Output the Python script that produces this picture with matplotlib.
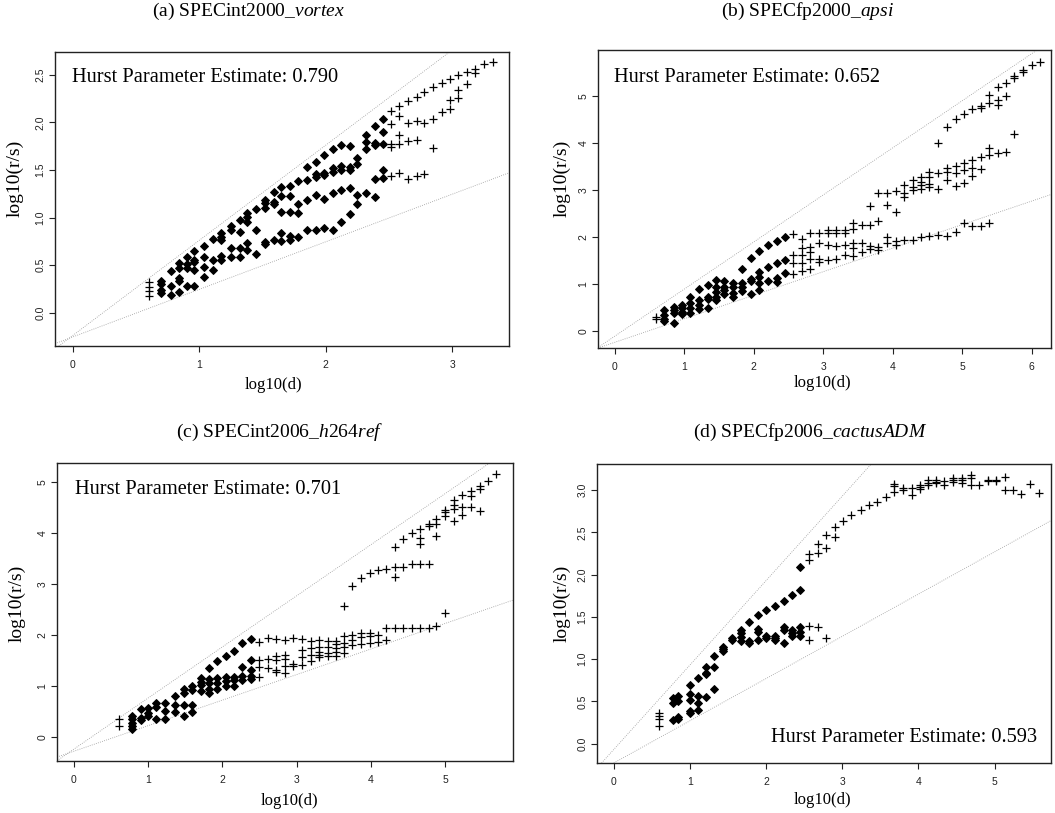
import numpy as np
import matplotlib.pyplot as plt

plt.rcParams['mathtext.fontset'] = 'custom'
plt.rcParams['mathtext.rm'] = 'Liberation Serif'
plt.rcParams['mathtext.it'] = 'Liberation Serif:italic'

# ---- (a) SPECint2000 vortex ----
a_logd = [0.60, 0.70, 0.78, 0.84, 0.90, 0.96, 1.04, 1.11, 1.17, 1.25, 1.32,
          1.38, 1.45, 1.52, 1.59, 1.65, 1.72, 1.78, 1.85, 1.92, 1.99, 2.06,
          2.12, 2.19, 2.25, 2.32, 2.39, 2.45, 2.52, 2.58, 2.65, 2.72, 2.78,
          2.85, 2.92, 2.98, 3.05, 3.12, 3.18, 3.25, 3.32]
a_logrs = [[0.32, 0.275, 0.225, 0.18], [0.33, 0.30, 0.24, 0.21],
           [0.44, 0.285, 0.19], [0.52, 0.47, 0.36, 0.33, 0.215],
           [0.585, 0.515, 0.47, 0.285], [0.65, 0.555, 0.535, 0.45, 0.285],
           [0.70, 0.585, 0.485, 0.38], [0.77, 0.55, 0.445],
           [0.84, 0.795, 0.76, 0.595, 0.555], [0.91, 0.865, 0.675, 0.59],
           [0.97, 0.85, 0.675, 0.59], [1.05, 1.005, 0.95, 0.73, 0.655],
           [1.085, 0.865, 0.615], [1.185, 1.15, 1.10, 0.745, 0.725],
           [1.27, 1.165, 1.14, 0.76], [1.325, 1.225, 1.06, 0.84, 0.755],
           [1.335, 1.225, 1.06, 0.805, 0.76], [1.385, 1.14, 1.05, 0.795],
           [1.53, 1.395, 1.185, 0.865], [1.585, 1.46, 1.43, 1.235, 0.865],
           [1.66, 1.465, 1.445, 1.20, 0.885], [1.72, 1.52, 1.48, 1.255, 0.865],
           [1.765, 1.54, 1.50, 1.29, 0.95], [1.755, 1.535, 1.50, 1.31, 1.04],
           [1.625, 1.565, 1.235, 1.14], [1.87, 1.79, 1.72, 1.26],
           [1.96, 1.78, 1.765, 1.41, 1.22], [2.04, 1.90, 1.77, 1.495, 1.42],
           [2.115, 1.98, 1.775, 1.74, 1.44], [2.17, 2.07, 1.865, 1.77, 1.465],
           [2.22, 1.995, 1.805, 1.41], [2.27, 2.02, 1.815, 1.44],
           [2.315, 1.995, 1.46], [2.37, 2.035, 1.73], [2.415, 2.105],
           [2.46, 2.24, 2.145], [2.495, 2.345, 2.255], [2.53, 2.405],
           [2.565, 2.52], [2.61], [2.64]]

# ---- (b) SPECfp2000 apsi ----
b_logd = [0.60, 0.71, 0.85, 0.965, 1.08, 1.21, 1.35, 1.46, 1.58, 1.70, 1.83,
          1.96, 2.08, 2.20, 2.33, 2.45, 2.57, 2.69, 2.81, 2.94, 3.07, 3.19,
          3.31, 3.43, 3.56, 3.67, 3.79, 3.92, 4.05, 4.17, 4.29, 4.41, 4.53,
          4.66, 4.78, 4.91, 5.03, 5.15, 5.27, 5.39, 5.51, 5.63, 5.75, 5.87,
          6.00, 6.12]
b_logrs = [[0.29, 0.25], [0.445, 0.34, 0.25, 0.22], [0.52, 0.445, 0.39, 0.165],
           [0.55, 0.48, 0.41, 0.36], [0.73, 0.59, 0.48, 0.375],
           [0.885, 0.66, 0.55, 0.46], [0.975, 0.715, 0.675, 0.495],
           [1.085, 0.94, 0.835, 0.715, 0.66], [1.07, 0.93, 0.87, 0.78],
           [1.025, 0.94, 0.80, 0.73], [1.315, 1.015, 0.94, 0.855],
           [1.56, 1.10, 1.07, 0.785], [1.705, 1.245, 1.155, 1.015, 0.87],
           [1.825, 1.365, 1.07], [1.92, 1.44, 1.12, 1.05],
           [1.99, 1.51, 1.225], [2.06, 1.615, 1.44, 1.21],
           [1.95, 1.755, 1.615, 1.44, 1.28], [2.075, 1.775, 1.685, 1.525, 1.31],
           [2.075, 1.865, 1.525, 1.475], [2.145, 2.075, 1.825, 1.51],
           [2.145, 2.075, 1.805, 1.525], [2.145, 2.09, 1.825, 1.615],
           [2.29, 2.16, 1.865, 1.755, 1.595], [2.25, 1.875, 1.685],
           [2.655, 2.25, 1.805, 1.735], [2.925, 2.345, 1.79, 1.72],
           [2.925, 2.675, 1.99, 1.865], [2.98, 2.535, 1.92, 1.825],
           [3.10, 2.925, 2.855, 1.935], [3.21, 3.065, 2.995, 1.935],
           [3.28, 3.175, 3.10, 3.01, 1.99], [3.385, 3.28, 3.125, 3.065, 2.02],
           [4.00, 3.365, 3.01, 2.04], [4.34, 3.455, 3.385, 3.21, 2.02],
           [4.50, 3.505, 3.365, 3.08, 2.11], [4.61, 3.575, 3.42, 3.135, 2.29],
           [4.71, 3.635, 3.455, 3.295, 2.23], [4.78, 4.73, 3.705, 3.435, 2.23],
           [5.015, 4.85, 3.895, 3.74, 2.30], [5.175, 4.91, 4.80, 3.79],
           [5.275, 4.995, 3.81], [5.42, 5.37, 4.185], [5.545, 5.51],
           [5.65], [5.72]]

# ---- (c) SPECint2006 h264ref ----
c_logd = [0.61, 0.78, 0.90, 1.00, 1.11, 1.23, 1.36, 1.48, 1.59, 1.71, 1.82,
          1.93, 2.05, 2.16, 2.27, 2.39, 2.50, 2.62, 2.73, 2.84, 2.95, 3.08,
          3.19, 3.30, 3.42, 3.53, 3.64, 3.75, 3.87, 3.99, 4.10, 4.21, 4.32,
          4.43, 4.55, 4.66, 4.78, 4.88, 5.00, 5.12, 5.23, 5.35, 5.47, 5.58,
          5.69]
c_logrs = [[0.355, 0.22], [0.42, 0.355, 0.29, 0.22, 0.175], [0.55, 0.375, 0.34],
           [0.57, 0.485, 0.42], [0.68, 0.59, 0.355], [0.665, 0.515, 0.355],
           [0.81, 0.635, 0.505], [0.94, 0.875, 0.635, 0.42],
           [1.005, 0.93, 0.635, 0.505], [1.155, 1.09, 1.025, 0.915],
           [1.355, 1.135, 1.06, 0.94, 0.865], [1.505, 1.155, 1.06, 0.94],
           [1.595, 1.19, 1.11, 1.005], [1.695, 1.19, 1.125, 1.005],
           [1.845, 1.375, 1.205, 1.125], [1.92, 1.515, 1.32, 1.205, 1.135],
           [1.875, 1.515, 1.375, 1.175], [1.94, 1.53, 1.355],
           [1.92, 1.595, 1.515, 1.32, 1.29], [1.91, 1.615, 1.53, 1.40, 1.255],
           [1.94, 1.44, 1.40], [1.92, 1.71, 1.57, 1.42],
           [1.895, 1.745, 1.615, 1.505], [1.91, 1.78, 1.68, 1.615, 1.57],
           [1.895, 1.78, 1.66, 1.595], [1.895, 1.83, 1.745, 1.68, 1.595],
           [2.575, 1.985, 1.855, 1.765, 1.66], [2.965, 2.005, 1.91, 1.81],
           [3.12, 2.04, 1.96, 1.83], [3.215, 2.05, 1.985, 1.855],
           [3.27, 2.005, 1.875], [3.295, 2.135, 1.91],
           [3.725, 3.345, 3.135, 2.135], [3.88, 3.345, 2.135],
           [4.00, 3.40, 2.135], [4.08, 3.90, 3.79, 3.40, 2.135],
           [4.185, 4.145, 3.40, 2.135], [4.275, 4.185, 3.935, 2.185],
           [4.46, 4.405, 4.34, 2.445], [4.64, 4.555, 4.47, 4.23],
           [4.75, 4.51, 4.36], [4.815, 4.73, 4.51], [4.915, 4.865, 4.425],
           [5.015], [5.155]]

# ---- (d) SPECfp2006 cactusADM ----
d_logd = [0.60, 0.775, 0.845, 1.00, 1.11, 1.21, 1.32, 1.44, 1.55, 1.67, 1.78,
          1.89, 2.00, 2.12, 2.23, 2.34, 2.45, 2.56, 2.68, 2.79, 2.90, 3.01,
          3.12, 3.24, 3.35, 3.45, 3.57, 3.68, 3.80, 3.91, 4.02, 4.12, 4.23,
          4.34, 4.46, 4.57, 4.69, 4.79, 4.91, 5.02, 5.13, 5.24, 5.35, 5.46,
          5.58]
d_logrs = [[0.365, 0.325, 0.295, 0.205], [0.535, 0.475, 0.275],
           [0.56, 0.50, 0.315, 0.295], [0.69, 0.59, 0.515, 0.385, 0.365],
           [0.78, 0.56, 0.48, 0.395], [0.91, 0.835, 0.82, 0.555],
           [1.035, 0.91, 0.65], [1.145, 1.125, 1.095], [1.245, 1.225],
           [1.35, 1.305, 1.265, 1.215], [1.44, 1.215, 1.19],
           [1.52, 1.36, 1.325, 1.23], [1.58, 1.27, 1.245],
           [1.625, 1.27, 1.245, 1.225], [1.69, 1.38, 1.35, 1.19],
           [1.755, 1.35, 1.31, 1.27], [2.09, 1.815, 1.375, 1.325, 1.27],
           [2.25, 2.17, 1.39, 1.225], [2.36, 2.26, 1.38], [2.465, 2.32, 1.255],
           [2.565, 2.44], [2.635], [2.705], [2.765], [2.825], [2.86], [2.915],
           [3.07, 3.05, 2.98], [3.03, 3.00], [3.02, 2.94], [3.065, 3.04, 3.01],
           [3.12, 3.085, 3.06], [3.12, 3.10, 3.08], [3.11, 3.06],
           [3.15, 3.125, 3.10], [3.14, 3.12, 3.085], [3.18, 3.15, 3.06],
           [3.06], [3.125, 3.105], [3.125, 3.105], [3.16, 3.00], [3.00],
           [2.96], [3.07], [2.97]]

panels = [
    dict(title=r'(a) SPECint2000_$\mathit{vortex}$', logd=a_logd, logrs=a_logrs,
         hurst='0.790', xlim=(-0.14, 3.45), ylim=(-0.35, 2.74),
         xticks=[0, 1, 2, 3], yticks=[0, 0.5, 1.0, 1.5, 2.0, 2.5], yfmt='{:.1f}',
         dense=(0.65, 2.48), icpt=(-0.24, -0.255),
         rect=(55, 52, 509, 346), tpos=(249, 11), hpos=(72, 77, 'left'),
         xlab=(273, 385), ylab=(15, 178)),
    dict(title=r'(b) SPECfp2000_$\mathit{apsi}$', logd=b_logd, logrs=b_logrs,
         hurst='0.652', xlim=(-0.24, 6.28), ylim=(-0.36, 5.97),
         xticks=list(range(7)), yticks=list(range(6)), yfmt='{:d}',
         dense=(0.65, 2.5), icpt=(-0.11, -0.24),
         rect=(598, 50, 1051, 348), tpos=(808, 11), hpos=(614, 77, 'left'),
         xlab=(822, 383), ylab=(562, 178)),
    dict(title=r'(c) SPECint2006_$\mathit{h264ref}$', logd=c_logd, logrs=c_logrs,
         hurst='0.701', xlim=(-0.225, 5.915), ylim=(-0.46, 5.37),
         xticks=list(range(6)), yticks=list(range(6)), yfmt='{:d}',
         dense=(0.7, 2.45), icpt=(-0.23, -0.27),
         rect=(57, 463, 513, 761), tpos=(280, 432), hpos=(75, 489, 'left'),
         xlab=(289, 801), ylab=(17, 603)),
    dict(title=r'(d) SPECfp2006_$\mathit{cactusADM}$', logd=d_logd, logrs=d_logrs,
         hurst='0.593', xlim=(-0.22, 5.74), ylim=(-0.23, 3.31),
         xticks=list(range(6)), yticks=[0, 0.5, 1.0, 1.5, 2.0, 2.5, 3.0], yfmt='{:.1f}',
         dense=(0.7, 2.5), icpt=(-0.07, -0.23),
         rect=(597, 464, 1051, 763), tpos=(810, 432), hpos=(1037, 737, 'right'),
         xlab=(822, 800), ylab=(562, 603)),
]

W, H = 1055, 813
fig = plt.figure(figsize=(W / 100, H / 100), dpi=100)
serif = 'Liberation Serif'
sans = 'Liberation Sans'

for p in panels:
    l, t, r, b = p['rect']
    ax = fig.add_axes([l / W, 1 - b / H, (r - l) / W, (b - t) / H])
    ax.set_xlim(p['xlim'])
    ax.set_ylim(p['ylim'])

    # reference lines with slope 1 and 1/2
    ax.axline((0, p['icpt'][0]), slope=1.0, color='#9a9a9a', lw=0.6,
              ls=(0, (1, 1.6)))
    ax.axline((0, p['icpt'][1]), slope=0.5, color='#9a9a9a', lw=0.6,
              ls=(0, (1, 1.6)))

    xs, ys = [], []
    for x, col in zip(p['logd'], p['logrs']):
        xs += [x] * len(col)
        ys += col
    xs, ys = np.array(xs), np.array(ys)
    m = (xs >= p['dense'][0]) & (xs <= p['dense'][1])
    ax.plot(xs[m], ys[m], ls='none', marker='D', ms=3.8, color='black',
            mec='black', mew=0.7)
    ax.plot(xs[~m], ys[~m], ls='none', marker='+', ms=6, color='black',
            mew=0.9)

    ax.set_xticks(p['xticks'])
    ax.set_xticklabels([str(v) for v in p['xticks']])
    ax.set_yticks(p['yticks'])
    ax.set_yticklabels([p['yfmt'].format(v) for v in p['yticks']],
                       rotation=90, va='center')
    ax.tick_params(direction='out', length=4.3, width=0.8, labelsize=7.5,
                   colors='#222222')
    ax.tick_params(axis='x', pad=6)
    ax.tick_params(axis='y', pad=2.5)
    for lbl in ax.get_xticklabels() + ax.get_yticklabels():
        lbl.set_family(sans)
    for s in ax.spines.values():
        s.set_linewidth(1.0)
        s.set_color('#222222')

    fig.text(p['tpos'][0] / W, 1 - p['tpos'][1] / H, p['title'],
             ha='center', va='center', family=serif, fontsize=14)
    hx, hy, ha = p['hpos']
    fig.text(hx / W, 1 - hy / H, 'Hurst Parameter Estimate: ' + p['hurst'],
             ha=ha, va='center', family=serif, fontsize=14.7)
    fig.text(p['xlab'][0] / W, 1 - p['xlab'][1] / H, 'log10(d)',
             ha='center', va='center', family=serif, fontsize=12)
    fig.text(p['ylab'][0] / W, 1 - p['ylab'][1] / H, 'log10(r/s)',
             ha='center', va='center', family=serif, fontsize=14,
             rotation=90)

fig.savefig('out.png', dpi=100)
